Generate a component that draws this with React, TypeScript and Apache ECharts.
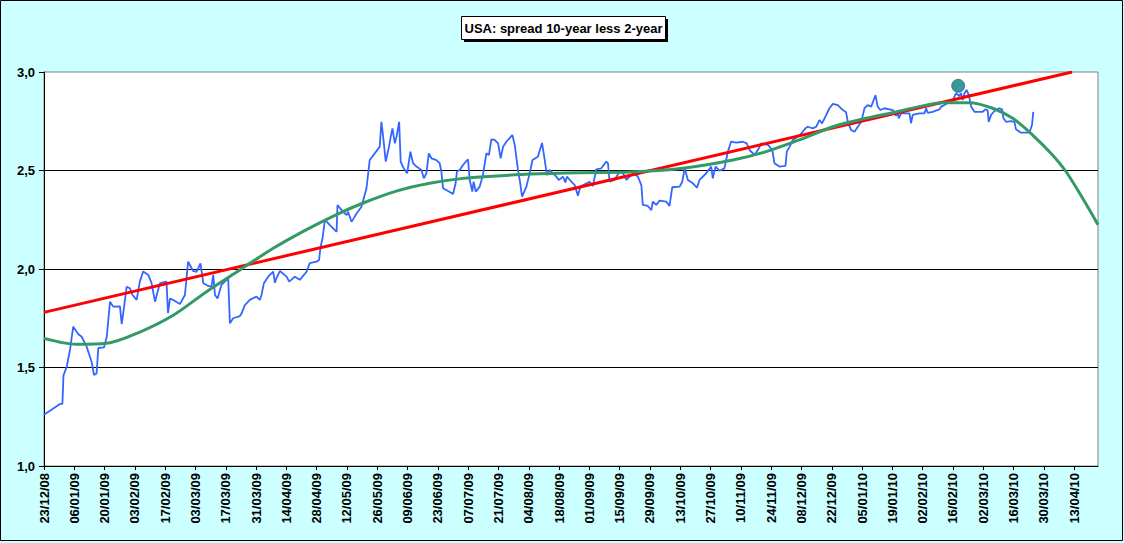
import React, { useEffect, useRef } from "react";
import * as echarts from "echarts";

const tickLabels = [
  "23/12/08", "06/01/09", "20/01/09", "03/02/09", "17/02/09", "03/03/09", "17/03/09", "31/03/09",
  "14/04/09", "28/04/09", "12/05/09", "26/05/09", "09/06/09", "23/06/09", "07/07/09", "21/07/09",
  "04/08/09", "18/08/09", "01/09/09", "15/09/09", "29/09/09", "13/10/09", "27/10/09", "10/11/09",
  "24/11/09", "08/12/09", "22/12/09", "05/01/10", "19/01/10", "02/02/10", "16/02/10", "02/03/10",
  "16/03/10", "30/03/10", "13/04/10",
];
const tickStepDays = 14;
const axisMaxDay = 487;

const yTicks = [1.0, 1.5, 2.0, 2.5, 3.0];

// Spread series (days after 23/12/08, value in %)
const blueDays = [
  0, 7.4, 8.5, 9, 10.5, 12, 13.5, 15.8, 17.4, 19.7, 22, 23.1, 24.3, 25.1, 27.7, 29, 30.5, 32, 35.1, 35.9,
  36.6, 38.2, 39.7, 40.9, 42.8, 44.3, 45.8, 48.2, 49.7, 51.3, 52.3, 53.6, 56.6, 57.3, 58.2, 59.7, 62.8, 65.1, 66.6, 68.9,
  70.5, 72.3, 73.6, 75.9, 77.4, 78.2, 79, 80.2, 82, 85.1, 85.9, 87.4, 90.5, 91.3, 92.8, 95.1, 98.2, 99.7, 100.5, 101.6,
  103.6, 105.9, 106.7, 107.4, 109, 112.1, 113.3, 115.9, 118.2, 121.3, 122.8, 125.9, 127.1, 127.8, 128.7, 129.8, 132.1, 135.2, 135.6, 138.2,
  139.8, 140.5, 142.1, 143.1, 144.4, 146.7, 149, 150.5, 152.8, 155.1, 155.9, 156.7, 157.9, 159.4, 160.2, 161, 162.1, 162.9, 164.1, 164.8,
  166.2, 167.8, 169.3, 170.5, 172.1, 174.4, 175.5, 176.7, 177.8, 179, 181.3, 182.8, 183.6, 184.4, 185.9, 189, 190.2, 190.8, 192.1, 193.6,
  195.9, 196.7, 197.9, 198.5, 199.5, 201.3, 202.8, 204.4, 205.6, 206.7, 208.2, 209.8, 211, 212.1, 213.6, 216.4, 217.5, 219, 219.8, 220.9,
  222.9, 224.4, 225.7, 228.2, 230.1, 231, 232.4, 233.6, 234.9, 236.7, 237.9, 239.8, 240.9, 241.6, 243.7, 245.2, 246.7, 247.8, 252.1, 253.6,
  255.2, 257.5, 259.8, 260.6, 261.3, 263.6, 266, 267.5, 269.1, 270.6, 272.1, 274.4, 276, 276.7, 279, 280.6, 281.3, 282.9, 284.4, 287.5,
  289, 290.3, 293.7, 294.9, 296, 297.5, 299.8, 301.7, 302.9, 306, 308.3, 309, 310.3, 312.1, 314.4, 316, 317.5, 319.8, 322.9, 324.7,
  326, 328.3, 330.3, 331.4, 334.5, 336.5, 337.5, 339.8, 342.6, 343.2, 344.5, 346, 348.3, 349.9, 351.8, 352.9, 355.2, 356.8, 358.3, 359.5,
  361.4, 362.9, 364.5, 366.8, 369.1, 370.6, 371.4, 372.9, 374.5, 376, 377.6, 379.1, 380.6, 382.2, 384.2, 385.2, 386.5, 388.3, 392.2, 393.7,
  394.5, 394.9, 396, 399.9, 400.6, 401.4, 404.5, 406.8, 407.6, 408.3, 410.6, 413.7, 414.5, 416, 419.9, 421.4, 422.9, 423.7, 424.5, 425.3,
  426.3, 427.3, 428.4, 429.9, 433.7, 435, 436, 436.5, 437.6, 439.6, 441.4, 442.7, 443.3, 444.5, 446.8, 448.4, 449.1, 451.4, 455.3, 456.5,
  457.1,
];
const blueValues = [
  1.26, 1.315, 1.315, 1.46, 1.504, 1.589, 1.707, 1.67, 1.656, 1.606, 1.529, 1.462, 1.47, 1.599, 1.602, 1.656, 1.834, 1.809, 1.81, 1.72,
  1.775, 1.91, 1.902, 1.868, 1.843, 1.936, 1.987, 1.97, 1.928, 1.834, 1.877, 1.928, 1.936, 1.776, 1.85, 1.843, 1.822, 1.868, 2.037, 1.99,
  1.986, 2.029, 1.928, 1.914, 1.91, 1.97, 1.868, 1.85, 1.92, 1.953, 1.724, 1.75, 1.761, 1.775, 1.817, 1.843, 1.86, 1.843, 1.868, 1.928,
  1.961, 1.987, 1.93, 1.953, 1.99, 1.961, 1.936, 1.961, 1.945, 1.986, 2.03, 2.037, 2.046, 2.113, 2.156, 2.249, 2.223, 2.189, 2.325, 2.29,
  2.274, 2.29, 2.24, 2.257, 2.282, 2.316, 2.41, 2.553, 2.587, 2.62, 2.747, 2.672, 2.545, 2.62, 2.672, 2.714, 2.638, 2.672, 2.747, 2.545,
  2.511, 2.486, 2.596, 2.537, 2.52, 2.503, 2.46, 2.486, 2.587, 2.562, 2.553, 2.537, 2.495, 2.41, 2.401, 2.381, 2.435, 2.495, 2.503, 2.528,
  2.557, 2.452, 2.393, 2.443, 2.393, 2.418, 2.477, 2.587, 2.579, 2.658, 2.655, 2.638, 2.562, 2.62, 2.646, 2.68, 2.63, 2.503, 2.452, 2.367,
  2.418, 2.486, 2.553, 2.57, 2.64, 2.579, 2.477, 2.503, 2.489, 2.469, 2.452, 2.469, 2.439, 2.469, 2.443, 2.426, 2.372, 2.418, 2.443, 2.421,
  2.506, 2.511, 2.545, 2.537, 2.443, 2.452, 2.495, 2.486, 2.452, 2.469, 2.486, 2.469, 2.426, 2.325, 2.32, 2.299, 2.342, 2.325, 2.347, 2.342,
  2.32, 2.415, 2.418, 2.443, 2.511, 2.452, 2.435, 2.413, 2.452, 2.486, 2.52, 2.46, 2.52, 2.499, 2.511, 2.596, 2.647, 2.641, 2.646, 2.638,
  2.604, 2.579, 2.613, 2.638, 2.63, 2.604, 2.537, 2.52, 2.523, 2.596, 2.62, 2.655, 2.672, 2.688, 2.714, 2.722, 2.714, 2.722, 2.756, 2.739,
  2.781, 2.816, 2.838, 2.832, 2.807, 2.796, 2.747, 2.706, 2.697, 2.722, 2.747, 2.816, 2.832, 2.824, 2.883, 2.824, 2.807, 2.816, 2.807, 2.777,
  2.798, 2.765, 2.79, 2.79, 2.74, 2.782, 2.79, 2.79, 2.816, 2.793, 2.798, 2.81, 2.824, 2.832, 2.858, 2.892, 2.878, 2.892, 2.858, 2.892,
  2.909, 2.883, 2.824, 2.798, 2.798, 2.81, 2.807, 2.747, 2.782, 2.807, 2.816, 2.81, 2.765, 2.747, 2.751, 2.747, 2.709, 2.692, 2.692, 2.731,
  2.798,
];

// Linear trend (red)
const trendDays = [0, 475];
const trendValues = [1.78, 3.0];

// Polynomial trend (green)
const polyDays = [
  0, 15, 29, 44.3, 59.7, 75.1, 90.5, 105.9, 121.3, 135.9, 147.5, 162.8, 178.2, 193.6, 209, 224.4, 247.5, 270.6,
  295.2, 318.3, 333.7, 349, 364.5, 379.9, 392, 407.6, 415.2, 427.6, 438.3, 447.6, 456.8, 466, 472.2, 479.9, 487,
];
const polyValues = [
  1.648, 1.618, 1.623, 1.68, 1.765, 1.885, 1.995, 2.105, 2.2, 2.28, 2.335, 2.395, 2.435, 2.46, 2.472, 2.482, 2.489, 2.492,
  2.511, 2.553, 2.596, 2.655, 2.722, 2.765, 2.793, 2.832, 2.844, 2.844, 2.816, 2.765, 2.68, 2.579, 2.495, 2.359, 2.225,
];

// Highlighted point
const dotDay = 422.4;
const dotValue = 2.93;

const TITLE = "USA: spread 10-year less 2-year";
const AXIS_FONT = 'Arial, "Liberation Sans", sans-serif';

function zip(xs: number[], ys: number[]) {
  return xs.map((x, i) => [x, ys[i]]);
}

export default function App() {
  const ref = useRef<HTMLDivElement>(null);

  useEffect(() => {
    if (!ref.current) return;
    const chart = echarts.init(ref.current, undefined, { renderer: "svg" });
    const tickDays = tickLabels.map((_, i) => i * tickStepDays);
    const option: any = {
      animation: false,
      backgroundColor: "#CCFFFF",
      grid: {
        left: 44,
        top: 72,
        right: 26,
        bottom: 77,
        show: true,
        backgroundColor: "#FFFFFF",
        borderColor: "#808080",
        borderWidth: 1,
      },
      xAxis: {
        type: "value",
        min: 0,
        max: axisMaxDay,
        interval: tickStepDays,
        axisLine: { show: true, lineStyle: { color: "#000000", width: 1 } },
        axisTick: {
          show: true,
          length: 4,
          inside: false,
          customValues: tickDays,
          lineStyle: { color: "#000000" },
        },
        axisLabel: {
          show: true,
          rotate: 90,
          margin: 7,
          customValues: tickDays,
          color: "#000000",
          fontFamily: AXIS_FONT,
          fontWeight: "bold",
          fontSize: 13,
          formatter: (v: number) => {
            const i = Math.round(v / tickStepDays);
            return tickLabels[i] ?? "";
          },
        },
        splitLine: { show: false },
      },
      yAxis: {
        type: "value",
        min: yTicks[0],
        max: yTicks[yTicks.length - 1],
        interval: 0.5,
        axisLine: { show: true, lineStyle: { color: "#000000", width: 1 } },
        axisTick: { show: true, length: 5, inside: false, lineStyle: { color: "#000000" } },
        axisLabel: {
          margin: 9,
          color: "#000000",
          fontFamily: AXIS_FONT,
          fontWeight: "bold",
          fontSize: 13,
          formatter: (v: number) => v.toFixed(1).replace(".", ","),
        },
        splitLine: {
          show: true,
          showMinLine: false,
          showMaxLine: false,
          lineStyle: { color: "#000000", width: 1 },
        },
      },
      series: [
        {
          type: "line",
          data: zip(blueDays, blueValues),
          showSymbol: false,
          lineStyle: { color: "#3366FF", width: 1.8 },
          z: 2,
        },
        {
          type: "line",
          data: zip(trendDays, trendValues),
          showSymbol: false,
          lineStyle: { color: "#FF0000", width: 3 },
          z: 3,
        },
        {
          type: "line",
          data: zip(polyDays, polyValues),
          showSymbol: false,
          smooth: 0.3,
          lineStyle: { color: "#339966", width: 3 },
          z: 4,
        },
        {
          type: "scatter",
          data: [[dotDay, dotValue]],
          symbol: "circle",
          symbolSize: 13,
          itemStyle: { color: "#008080", borderColor: "#4B5A8C", borderWidth: 1 },
          z: 5,
        },
      ],
      graphic: [
        {
          type: "rect",
          z: 100,
          silent: true,
          shape: { x: 0.5, y: 0.5, width: 1122, height: 540 },
          style: { fill: "none", stroke: "#000000", lineWidth: 1 },
        },
        {
          type: "rect",
          z: 100,
          shape: { x: 464, y: 19, width: 204, height: 23 },
          style: { fill: "#000000" },
        },
        {
          type: "rect",
          z: 101,
          shape: { x: 461.5, y: 16.5, width: 204, height: 23 },
          style: { fill: "#FFFFFF", stroke: "#000000", lineWidth: 1 },
        },
        {
          type: "text",
          z: 102,
          x: 563.5,
          y: 28.5,
          style: {
            text: TITLE,
            fill: "#000000",
            font: 'bold 13px Arial, "Liberation Sans", sans-serif',
            textAlign: "center",
            textVerticalAlign: "middle",
          },
        },
      ],
    };
    chart.setOption(option);
    return () => chart.dispose();
  }, []);

  return (
    <div
      ref={ref}
      style={{ position: "fixed", left: 0, top: 0, width: 1124, height: 543, background: "#FFFFFF" }}
    />
  );
}
